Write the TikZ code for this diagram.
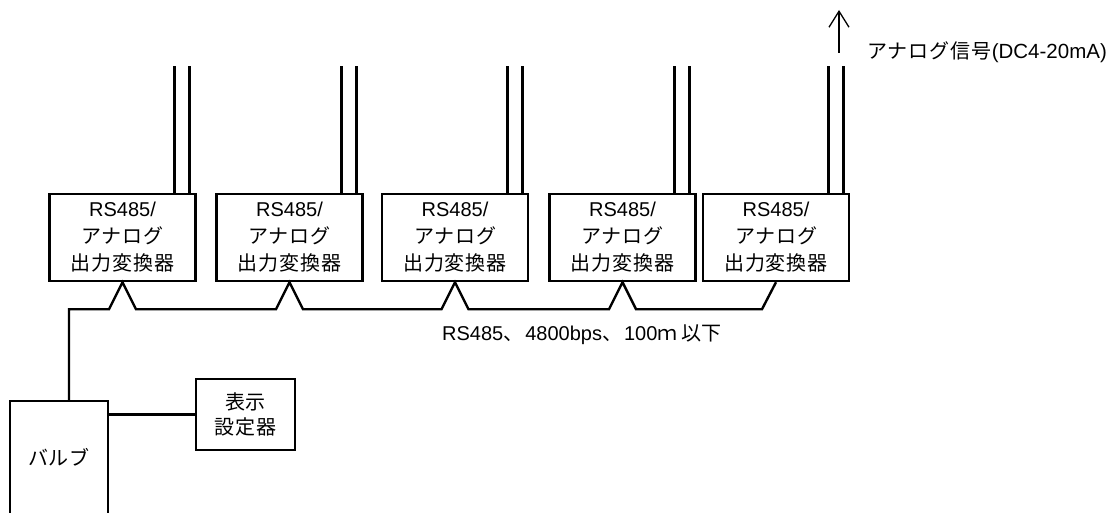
\documentclass[tikz,border=0pt]{standalone}
\usepackage{fontspec}
\setmainfont{Liberation Sans}
\newfontfamily\jp{Noto Sans CJK JP}
\newfontfamily\jpw[LetterSpace=4]{Noto Sans CJK JP}
\newfontfamily\jpx[LetterSpace=5]{Noto Sans CJK JP}
\usetikzlibrary{arrows.meta,calc}
\tikzset{
  conv/.style={draw, line width=2.4pt, minimum width=146pt, minimum height=87pt, inner sep=0pt, align=center, font=\fontsize{20}{27}\selectfont},
  disp/.style={draw, line width=2.4pt, minimum width=99pt, minimum height=71pt, inner sep=0pt, align=center, font=\fontsize{20}{25}\selectfont},
  sig/.style={line width=3pt},
  bus/.style={line width=2.4pt, line join=miter},
  lbl/.style={inner sep=0pt},
}
\begin{document}
\begin{tikzpicture}[x=1pt,y=-1pt]
\useasboundingbox (0,0) rectangle (1115,513);
% converters
\foreach \i/\cx in {1/122.5, 2/289.5, 3/455, 4/622.5, 5/776}{
  \node[conv] (c\i) at (\cx,237.5) {RS485/\\{\jpw アナログ}\\{\jpw 出力変換器}};
  \draw[sig] ([xshift=-7pt]c\i.north east) -- ++(0,-127);
  \draw[sig] ([xshift=-22pt]c\i.north east) -- ++(0,-127);
}
% valve
\node[inner sep=0pt, minimum width=98pt, minimum height=112pt, font=\fontsize{20}{22}\selectfont] (valve) at (59,457) {\jpw バルブ};
\draw[line width=2.4pt] ([yshift=-6pt]valve.south west) -- (valve.north west) -- (valve.north east) -- ([yshift=-6pt]valve.south east);
% display
\node[disp] (disp) at (245.5,414.5) {{\jpw 表示}\\{\jpw 設定器}};
\draw[bus] (disp.west) -- (disp.west -| valve.east);
% bus
\draw[bus] ([xshift=10pt]valve.north) -- ($(c1.south)+(-53.5,27)$)
  -- ($(c1.south)+(-13.5,27)$) -- (c1.south) -- ($(c1.south)+(13.5,27)$)
  -- ($(c2.south)+(-13.5,27)$) -- (c2.south) -- ($(c2.south)+(13.5,27)$)
  -- ($(c3.south)+(-13.5,27)$) -- (c3.south) -- ($(c3.south)+(13.5,27)$)
  -- ($(c4.south)+(-13.5,27)$) -- (c4.south) -- ($(c4.south)+(13.5,27)$)
  -- ($(c5.south)+(-14,27)$) -- (c5.south);
\node[lbl, anchor=west, font=\fontsize{20}{22}\selectfont] (buslbl) at (442,335) {RS485{\jp 、}\hspace{2pt}4800bps{\jp 、}\hspace{2pt}100{\jp ｍ}\hspace{4pt}{\jp 以下}};
% analog signal arrow
\coordinate (a0) at (839,53);
\coordinate (a1) at (839,10);
\draw[line width=1.3pt, -{Straight Barb[length=16pt,width=20pt,line width=1.3pt]}] (a0) -- (a1);
\node[lbl, anchor=west, font=\fontsize{20}{22}\selectfont] (siglbl) at (867,52) {{\jpx アナログ信号}{\fontsize{20.5}{22}\selectfont(DC4-20mA)}};
\end{tikzpicture}
\end{document}
